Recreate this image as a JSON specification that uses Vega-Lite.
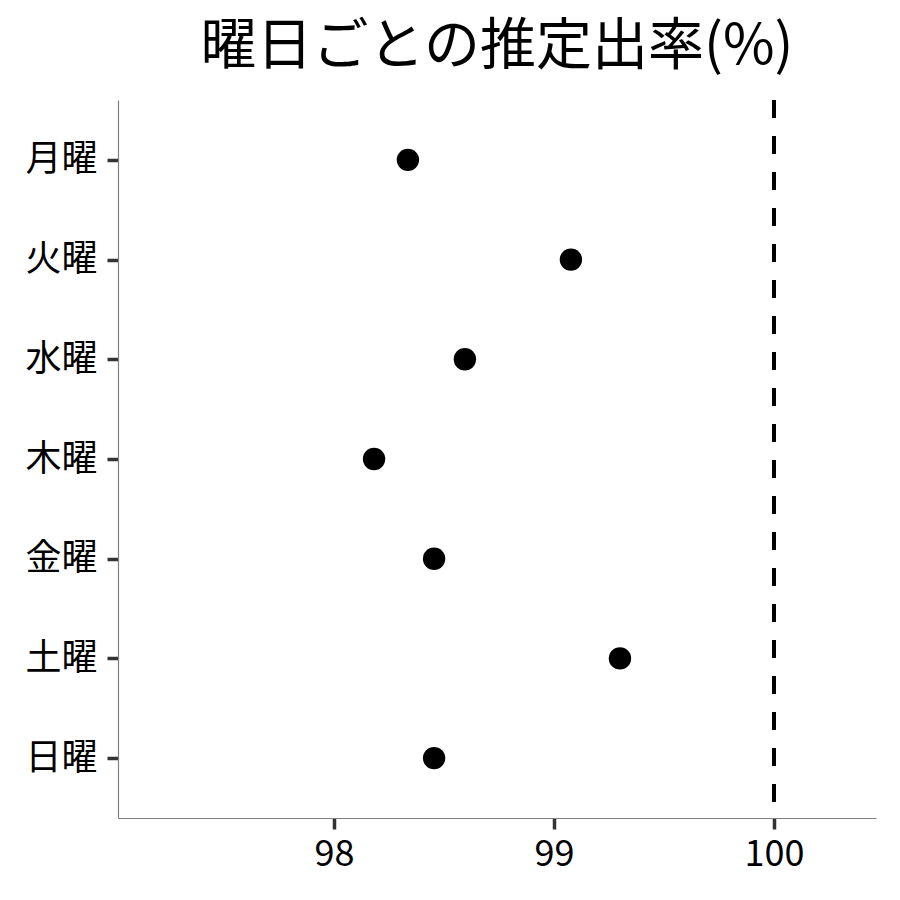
{
  "$schema": "https://vega.github.io/schema/vega-lite/v6.json",
  "autosize": {"type": "none"},
  "padding": {"left": 118, "top": 100, "right": 24, "bottom": 82},
  "width": 758,
  "height": 718,
  "background": "white",
  "config": {
    "font": "Noto Sans CJK JP",
    "view": {"stroke": null}
  },
  "title": {
    "text": "曜日ごとの推定出率(%)",
    "font": "Noto Sans CJK JP",
    "fontSize": 56,
    "fontWeight": "normal",
    "color": "black",
    "anchor": "middle",
    "offset": 22
  },
  "data": {
    "values": [
      {"day": "月曜", "rate": 98.336},
      {"day": "火曜", "rate": 99.077},
      {"day": "水曜", "rate": 98.595},
      {"day": "木曜", "rate": 98.182},
      {"day": "金曜", "rate": 98.455},
      {"day": "土曜", "rate": 99.3},
      {"day": "日曜", "rate": 98.455}
    ]
  },
  "layer": [
    {
      "mark": {"type": "rule", "strokeDash": [18, 18], "strokeWidth": 3.5, "color": "black"},
      "encoding": {"x": {"datum": 100, "type": "quantitative"}}
    },
    {
      "mark": {"type": "circle", "size": 500, "opacity": 1, "color": "black"},
      "encoding": {
        "x": {
          "field": "rate",
          "type": "quantitative",
          "scale": {"domain": [97.018, 100.464], "nice": false, "zero": false},
          "axis": {
            "title": null,
            "values": [98, 99, 100],
            "format": "d",
            "grid": false,
            "domainColor": "#808080",
            "domainWidth": 1.2,
            "tickColor": "#333333",
            "tickWidth": 3.5,
            "tickSize": 11,
            "labelFont": "Noto Sans CJK JP",
            "labelFontSize": 36,
            "labelColor": "black",
            "labelPadding": 8
          }
        },
        "y": {
          "field": "day",
          "type": "nominal",
          "sort": ["月曜", "火曜", "水曜", "木曜", "金曜", "土曜", "日曜"],
          "scale": {"type": "point", "padding": 0.6},
          "axis": {
            "title": null,
            "grid": false,
            "domainColor": "#808080",
            "domainWidth": 1.2,
            "tickColor": "#333333",
            "tickWidth": 3.5,
            "tickSize": 11,
            "labelFont": "Noto Sans CJK JP",
            "labelFontSize": 36,
            "labelColor": "black",
            "labelPadding": 10
          }
        }
      }
    }
  ]
}
